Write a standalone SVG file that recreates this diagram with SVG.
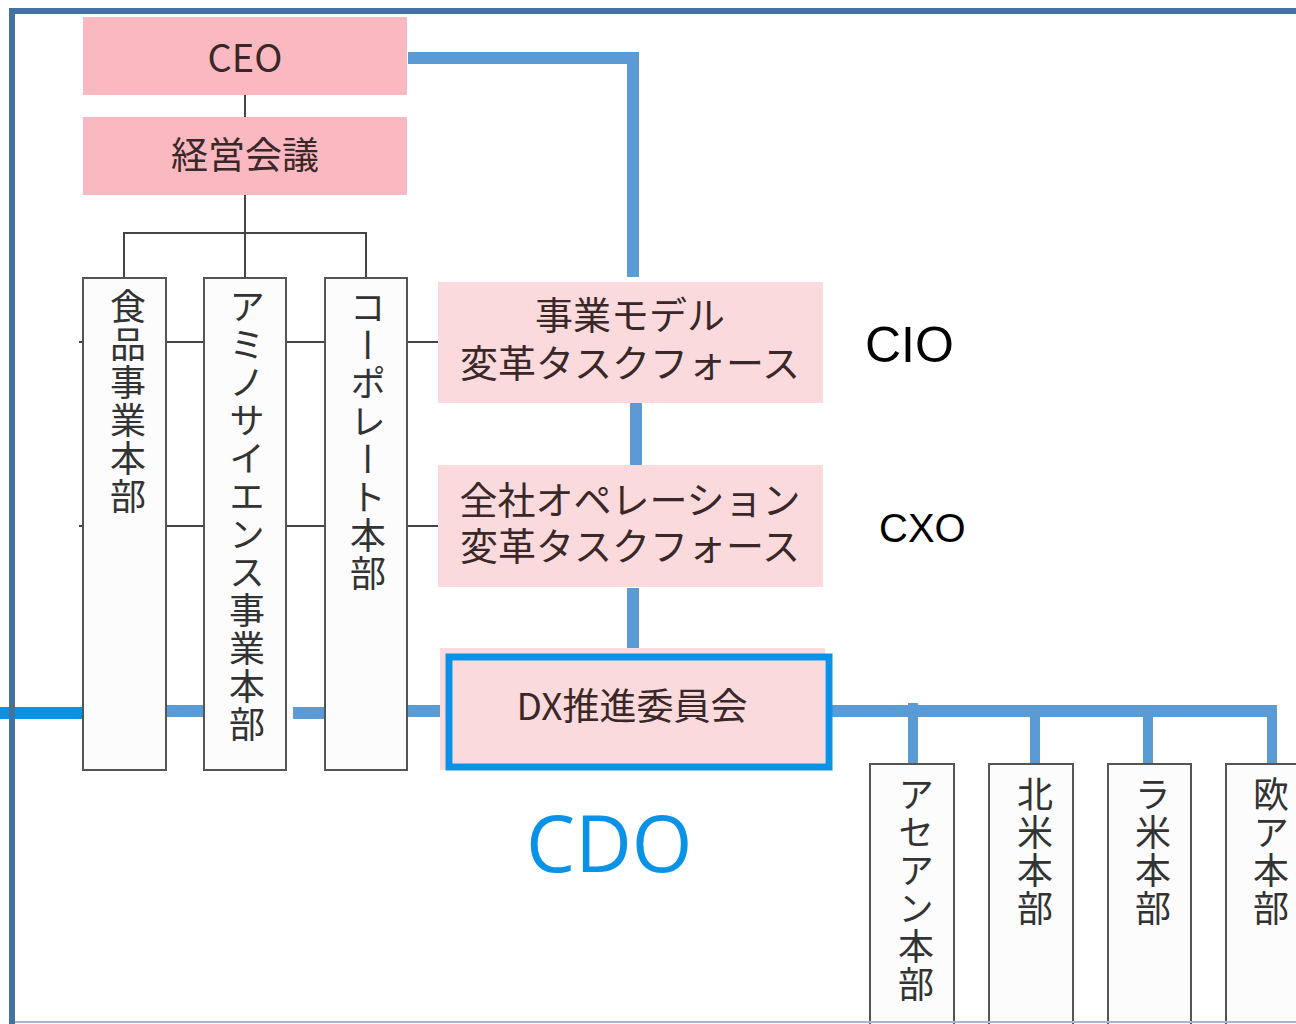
<svg xmlns="http://www.w3.org/2000/svg" width="1296" height="1024" viewBox="0 0 1296 1024">
<style>
.jp{font-family:"Noto Sans CJK JP","Noto Sans",sans-serif;fill:#3a2828}
.vt{font-family:"Noto Sans CJK JP","Noto Sans",sans-serif;fill:#333;font-size:36px;writing-mode:vertical-rl;letter-spacing:2px}
.pk1{fill:#fab8c0}
.pk2{fill:#fbdadd}
.col{fill:#fcfcfc;stroke:#555;stroke-width:2}
.thin{stroke:#444;stroke-width:2;fill:none}
.bl{stroke:#5b9bd5;fill:none;stroke-width:12}
.bl2{stroke:#5b9bd5;fill:none;stroke-width:10}
.lbl{font-family:"Liberation Sans",Arial,sans-serif;fill:#000}
</style>
<rect width="1296" height="1024" fill="#fff"/>

<g id="connectors">
  <path class="thin" d="M245 95V117M245 195V278M124 278V233H366V278M245 233V278"/>
  <path class="thin" d="M79 342H83M166 342H204M286 342H325M407 342H438M79 526H83M166 526H204M286 526H325M407 526H438"/>
  <path class="bl" d="M408 58H633V277"/>
  <path class="bl" d="M636 402V477"/>
  <path class="bl" d="M633 588V650"/>
  <path stroke="#0a93e6" stroke-width="12" d="M0 713H83"/>
  <path class="bl" d="M163 711H213M293 713H332M407 711H448"/>
  <path class="bl" d="M830 711H1277"/>
  <path class="bl2" d="M913 703V765M1035 711V775M1148 711V765M1272 711V765"/>
</g>

<g id="ceo"><rect class="pk1" x="83" y="17" width="324" height="78"/><text class="jp" x="245" y="72" font-size="38" text-anchor="middle">CEO</text></g>
<g id="keiei"><rect class="pk1" x="83" y="117" width="324" height="78"/><text class="jp" x="245" y="169" font-size="37" text-anchor="middle">経営会議</text></g>

<g id="shokuhin"><rect class="col" x="83" y="278" width="83" height="492"/><text class="vt" x="128" y="288">食品事業本部</text></g>
<g id="amino"><rect class="col" x="204" y="278" width="82" height="492"/><text class="vt" x="247" y="288">アミノサイエンス事業本部</text></g>
<g id="corporate"><rect class="col" x="325" y="278" width="82" height="492"/><text class="vt" x="368" y="289">コーポレート本部</text></g>

<g id="tf1"><rect class="pk2" x="438" y="282" width="385" height="121"/>
<text class="jp" font-size="38" text-anchor="middle"><tspan x="630" y="329">事業モデル</tspan><tspan x="630" y="377">変革タスクフォース</tspan></text></g>
<g id="tf2"><rect class="pk2" x="438" y="465" width="385" height="122"/>
<text class="jp" font-size="38" text-anchor="middle"><tspan x="630" y="514">全社オペレーション</tspan><tspan x="630" y="560">変革タスクフォース</tspan></text></g>
<g id="dx"><rect class="pk2" x="440" y="648" width="385" height="122"/>
<rect x="449" y="657" width="380" height="110" fill="none" stroke="#0a93e6" stroke-width="7"/>
<text class="jp" x="632" y="720" font-size="37" text-anchor="middle">DX推進委員会</text></g>

<g id="asean"><rect class="col" x="870" y="764" width="84" height="270"/><text class="vt" x="916" y="776">アセアン本部</text></g>
<g id="namerica"><rect class="col" x="989" y="764" width="84" height="270"/><text class="vt" x="1035" y="776">北米本部</text></g>
<g id="lamerica"><rect class="col" x="1108" y="764" width="83" height="270"/><text class="vt" x="1153" y="776">ラ米本部</text></g>
<g id="europe"><rect class="col" x="1226" y="764" width="84" height="270"/><text class="vt" x="1271" y="776">欧ア本部</text></g>

<g id="labels">
<text class="lbl" x="865" y="362" font-size="50">CIO</text>
<text class="lbl" x="879" y="542" font-size="40">CXO</text>
<text x="526" y="872" font-family="'Open Sans','Noto Sans',sans-serif" font-size="78" fill="#0a93e6">CDO</text>
</g>

<g id="frame">
<path d="M12 1024V11H1296" fill="none" stroke="#44729e" stroke-width="6"/>
<path d="M15 1022H1296" stroke="#a9b8c8" stroke-width="2"/>
</g>
</svg>
